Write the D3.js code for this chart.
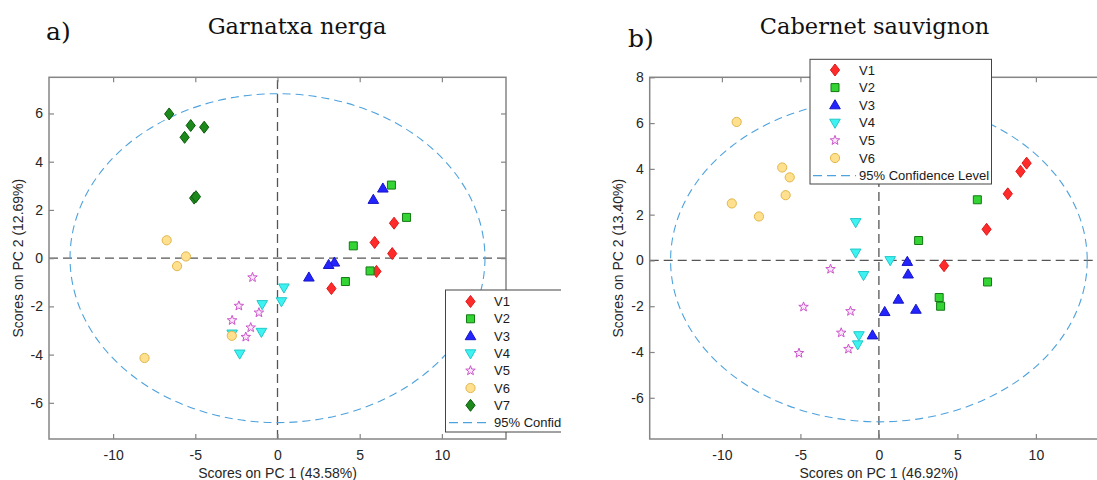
<!DOCTYPE html>
<html lang="es">
<head>
    <title>PCA - Garnatxa nerga / Cabernet sauvignon</title>
    <meta charset="utf-8"/>
    <script src="https://d3js.org/d3.v7.min.js"></script>
    <style>
        body { margin: 0; background: #fff; }
        text { font-family: "Liberation Sans", Arial, sans-serif; }
        .tick text { font-size: 14px; fill: #262626; }
    </style>
</head>
<body>
<svg width="1097" height="480"></svg>

<script type="text/javascript">

    // nombres de las series y ticks
    const seriesNames = ["V1", "V2", "V3", "V4", "V5", "V6", "V7"];
    const xTicks = [-10, -5, 0, 5, 10];
    const yTicksA = [-6, -4, -2, 0, 2, 4, 6];
    const yTicksB = [-6, -4, -2, 0, 2, 4, 6, 8];

    // a) Garnatxa nerga, [PC1, PC2]
    const gnV1 = [[7.09, 1.45], [5.91, 0.65], [6.98, 0.19], [6.02, -0.55], [3.28, -1.26]];
    const gnV2 = [[6.93, 3.03], [7.85, 1.69], [4.61, 0.51], [5.63, -0.53], [4.13, -0.97]];
    const gnV3 = [[6.41, 2.89], [5.83, 2.42], [3.46, -0.18], [3.11, -0.28], [1.91, -0.80]];
    const gnV4 = [[0.39, -1.22], [0.24, -1.79], [-0.93, -1.91], [-0.98, -3.06], [-2.76, -3.13], [-2.30, -3.96]];
    const gnV5 = [[-1.52, -0.80], [-2.35, -1.98], [-1.13, -2.26], [-2.76, -2.58], [-1.63, -2.88], [-1.93, -3.27]];
    const gnV6 = [[-6.74, 0.74], [-5.57, 0.07], [-6.11, -0.33], [-2.78, -3.22], [-8.09, -4.14]];
    const gnV7 = [[-6.59, 5.98], [-5.28, 5.50], [-4.46, 5.43], [-5.65, 5.01], [-5.07, 2.49], [-4.96, 2.55]];
    const gnEllipse = [12.62, 6.82]; // semiejes 95%

    // b) Cabernet sauvignon, [PC1, PC2]
    const csV1 = [[9.41, 4.25], [9.02, 3.89], [8.21, 2.91], [6.86, 1.36], [4.15, -0.23]];
    const csV2 = [[6.27, 2.65], [2.53, 0.87], [6.92, -0.94], [3.84, -1.62], [3.93, -2.00]];
    const csV3 = [[1.81, -0.06], [1.86, -0.61], [1.24, -1.71], [0.37, -2.25], [2.36, -2.15], [-0.41, -3.27]];
    const csV4 = [[-1.48, 1.67], [-1.48, 0.34], [0.72, 0.01], [-0.98, -0.64], [-1.27, -3.27], [-1.35, -3.67]];
    const csV5 = [[-3.08, -0.38], [-4.80, -2.03], [-1.81, -2.22], [-2.40, -3.16], [-1.94, -3.87], [-5.09, -4.05]];
    const csV6 = [[-9.06, 6.05], [-6.16, 4.06], [-5.68, 3.63], [-5.94, 2.85], [-9.37, 2.49], [-7.64, 1.92]];
    const csEllipse = [13.27, 7.05];

    // simbolos tipo matlab (size = escala)
    const diamond = {draw(c, s) { c.moveTo(0, -6 * s); c.lineTo(4.6 * s, 0); c.lineTo(0, 6 * s); c.lineTo(-4.6 * s, 0); c.closePath(); }};
    const square = {draw(c, s) { c.rect(-4 * s, -4 * s, 8 * s, 8 * s); }};
    const triUp = {draw(c, s) { c.moveTo(0, -5.5 * s); c.lineTo(5.3 * s, 3.6 * s); c.lineTo(-5.3 * s, 3.6 * s); c.closePath(); }};
    const triDown = {draw(c, s) { c.moveTo(0, 5.5 * s); c.lineTo(5.3 * s, -3.6 * s); c.lineTo(-5.3 * s, -3.6 * s); c.closePath(); }};
    const circle = {draw(c, s) { c.moveTo(4.6 * s, 0); c.arc(0, 0, 4.6 * s, 0, 2 * Math.PI); }};
    const star = {draw(c, s) {
        for (let i = 0; i < 10; i++) {
            const r = (i % 2 ? 2.1 : 5) * s, a = -Math.PI / 2 + i * Math.PI / 5;
            i ? c.lineTo(r * Math.cos(a), r * Math.sin(a)) : c.moveTo(r * Math.cos(a), r * Math.sin(a));
        }
        c.closePath();
    }};

    const markStyle = [
        {type: diamond, fill: "#ff2b2b", stroke: "#dd1a1a"},
        {type: square, fill: "#33d433", stroke: "#137a13"},
        {type: triUp, fill: "#2424ff", stroke: "#1616c8"},
        {type: triDown, fill: "#3ff2f2", stroke: "#22c8c8"},
        {type: star, fill: "#fbe6fb", stroke: "#cc55cc"},
        {type: circle, fill: "#ffe08e", stroke: "#e2b64c"},
        {type: diamond, fill: "#1b8a1b", stroke: "#0c5a0c"}
    ];

    const svg = d3.select("svg");
    const frameColor = "#858585";

    function drawPanel(p) {
        const g = svg.append("g");
        const x = d3.scaleLinear().domain(p.xDomain).range([p.left, p.right]);
        const y = d3.scaleLinear().domain(p.yDomain).range([p.bottom, p.top]);

        // lineas del cero
        g.append("line")
            .attr("x1", x(p.xDomain[0])).attr("x2", x(p.xDomain[1]))
            .attr("y1", y(0)).attr("y2", y(0))
            .attr("stroke", "#555").attr("stroke-width", 1.3).attr("stroke-dasharray", "9,5");
        g.append("line")
            .attr("x1", x(0)).attr("x2", x(0))
            .attr("y1", y(p.yDomain[0])).attr("y2", y(p.yDomain[1]))
            .attr("stroke", "#555").attr("stroke-width", 1.3).attr("stroke-dasharray", "9,5");

        // elipse de confianza
        g.append("ellipse")
            .attr("cx", x(0)).attr("cy", y(0))
            .attr("rx", x(p.ellipse[0]) - x(0))
            .attr("ry", y(0) - y(p.ellipse[1]))
            .attr("fill", "none").attr("stroke", "#4ea2dd").attr("stroke-width", 1.1)
            .attr("stroke-dasharray", "8,5");

        // puntos
        p.series.forEach((pts, i) => {
            const st = markStyle[i];
            g.selectAll(null).data(pts).join("path")
                .attr("transform", d => "translate(" + x(d[0]) + "," + y(d[1]) + ")")
                .attr("d", d3.symbol().type(st.type).size(1))
                .attr("fill", st.fill).attr("stroke", st.stroke).attr("stroke-width", 1);
        });

        // marco
        g.append("rect")
            .attr("x", p.left).attr("y", p.top)
            .attr("width", p.right - p.left).attr("height", p.bottom - p.top)
            .attr("fill", "none").attr("stroke", frameColor).attr("stroke-width", 1.5);

        // ejes con ticks hacia adentro
        function axis(gen, tx, ty, labels) {
            const a = g.append("g").attr("transform", "translate(" + tx + "," + ty + ")").call(gen);
            a.select(".domain").remove();
            a.selectAll(".tick line").attr("stroke", frameColor).attr("stroke-width", 1.2);
            if (!labels) a.selectAll("text").remove();
        }
        const fmt = d => String(d);
        axis(d3.axisBottom(x).tickValues(xTicks).tickSizeInner(-5).tickSizeOuter(0).tickPadding(11).tickFormat(fmt), 0, p.bottom, true);
        axis(d3.axisTop(x).tickValues(xTicks).tickSizeInner(-5).tickSizeOuter(0), 0, p.top, false);
        axis(d3.axisLeft(y).tickValues(p.yTicks).tickSizeInner(-5).tickSizeOuter(0).tickPadding(6).tickFormat(fmt), p.left, 0, true);
        axis(d3.axisRight(y).tickValues(p.yTicks).tickSizeInner(-5).tickSizeOuter(0), p.right, 0, false);

        // titulos de ejes
        g.append("text")
            .attr("x", (p.left + p.right) / 2).attr("y", 478)
            .attr("text-anchor", "middle").style("font-size", "14px").attr("fill", "#262626")
            .text(p.xLabel);
        g.append("text")
            .attr("transform", "translate(" + p.yLabelX + "," + ((p.top + p.bottom) / 2) + ") rotate(-90)")
            .attr("dy", "0.35em")
            .attr("text-anchor", "middle").style("font-size", "14px").attr("fill", "#262626")
            .text(p.yLabel);

        // titulo y letra
        g.append("text")
            .attr("x", p.titleX).attr("y", 34)
            .attr("text-anchor", "middle")
            .style("font-family", "DejaVu Serif").style("font-size", "22.5px").attr("fill", "#111")
            .text(p.title);
        g.append("text")
            .attr("x", p.letterX).attr("y", p.letterY)
            .style("font-family", "DejaVu Serif").style("font-size", "25px").attr("fill", "#111")
            .text(p.letter);

        // legenda
        const L = p.legend;
        const lg = g.append("g");
        if (L.clip) {
            svg.append("clipPath").attr("id", "clipLeg").append("rect")
                .attr("x", 0).attr("y", 0).attr("width", L.clip).attr("height", 480);
            lg.attr("clip-path", "url(#clipLeg)");
        }
        lg.append("rect")
            .attr("x", L.x).attr("y", L.y).attr("width", L.w).attr("height", L.h)
            .attr("fill", "#fff").attr("stroke", "#444").attr("stroke-width", 1);
        p.series.forEach((pts, i) => {
            const st = markStyle[i];
            const yy = L.row0 + i * L.step;
            lg.append("path")
                .attr("transform", "translate(" + L.markX + "," + yy + ")")
                .attr("d", d3.symbol().type(st.type).size(1))
                .attr("fill", st.fill).attr("stroke", st.stroke).attr("stroke-width", 1);
            lg.append("text")
                .attr("x", L.textX).attr("y", yy).attr("dy", "0.36em")
                .style("font-size", "13px").attr("fill", "#1a1a1a")
                .text(seriesNames[i]);
        });
        const yConf = L.row0 + p.series.length * L.step;
        lg.append("line")
            .attr("x1", L.lineX0).attr("x2", L.lineX1).attr("y1", yConf).attr("y2", yConf)
            .attr("stroke", "#4ea2dd").attr("stroke-width", 1.1).attr("stroke-dasharray", "9,5");
        lg.append("text")
            .attr("x", L.textX).attr("y", yConf).attr("dy", "0.36em")
            .style("font-size", "13px").attr("fill", "#1a1a1a")
            .text("95% Confidence Level");
    }

    drawPanel({
        title: "Garnatxa nerga", titleX: 297, letter: "a)", letterX: 46, letterY: 40,
        xDomain: [-13.9, 13.9], yDomain: [-7.5, 7.5],
        left: 49, right: 506, top: 77.3, bottom: 439,
        yTicks: yTicksA, ellipse: gnEllipse,
        series: [gnV1, gnV2, gnV3, gnV4, gnV5, gnV6, gnV7],
        xLabel: "Scores on PC 1 (43.58%)", yLabel: "Scores on PC 2 (12.69%)", yLabelX: 18,
        legend: {x: 445.5, y: 290, w: 150, h: 142, row0: 301.5, step: 17.3,
            markX: 470.5, textX: 494, lineX0: 449, lineX1: 491, clip: 561}
    });

    drawPanel({
        title: "Cabernet sauvignon", titleX: 874.5, letter: "b)", letterX: 628, letterY: 47,
        xDomain: [-14.6, 14.6], yDomain: [-7.8, 8],
        left: 649.7, right: 1108.1, top: 77.3, bottom: 439,
        yTicks: yTicksB, ellipse: csEllipse,
        series: [csV1, csV2, csV3, csV4, csV5, csV6],
        xLabel: "Scores on PC 1 (46.92%)", yLabel: "Scores on PC 2 (13.40%)", yLabelX: 618.5,
        legend: {x: 810, y: 59.3, w: 181.5, h: 124.7, row0: 70, step: 17.6,
            markX: 835, textX: 859, lineX0: 813, lineX1: 856, clip: null}
    });

</script>
</body>
</html>
